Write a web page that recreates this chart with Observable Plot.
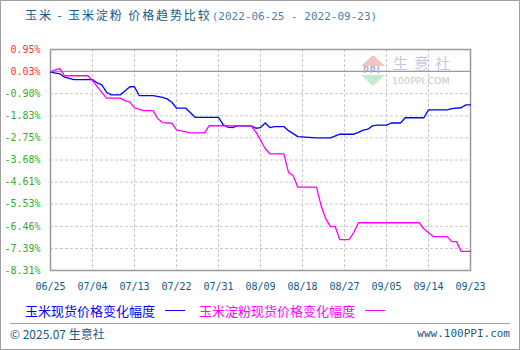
<!DOCTYPE html>
<html>
<head>
<meta charset="utf-8">
<script src="https://cdn.jsdelivr.net/npm/d3@7"></script>
<script src="https://cdn.jsdelivr.net/npm/@observablehq/plot@0.6"></script>
<style>
  html, body { margin: 0; padding: 0; background: #fff; }
  #wrap { position: relative; width: 520px; height: 350px; overflow: hidden; background: #fff; box-shadow: inset 0 0 0 1px #a0a0a0; }
  #chart { position: absolute; left: 0; top: 0; }
  .title { position: absolute; left: 25px; top: 7px; font-family: "Noto Sans CJK SC", sans-serif; font-size: 12px; line-height: 16px; color: #135a8c; white-space: nowrap; letter-spacing: 1.9px; }
  .title .d { color: #4a80b0; font-family: "DejaVu Sans Mono", monospace; font-size: 11px; letter-spacing: 0; }
  .legend { position: absolute; left: 25px; top: 301px; font: 13px "Noto Sans CJK SC", sans-serif; white-space: nowrap; display: flex; align-items: center; }
  .legend .sw { display: inline-block; width: 20px; height: 0; border-top: 1.5px solid; margin: 0 14px 0 10px; }
  .sep { position: absolute; left: 10px; right: 10px; top: 323px; border-top: 1px solid #a0a0a0; }
  .foot { position: absolute; top: 325px; font: 12px "Noto Sans CJK SC", sans-serif; color: #1a5a80; white-space: nowrap; }
  .wm { position: absolute; pointer-events: none; white-space: nowrap; }
  .tri-up { width: 0; height: 0; border-left: 12px solid transparent; border-right: 12px solid transparent; border-bottom: 11px solid #f6c2c0; }
  .tri-dn { width: 0; height: 0; border-left: 12px solid transparent; border-right: 12px solid transparent; border-top: 11px solid #c6ebcc; }
</style>
</head>
<body>
<div id="wrap">
  <div id="chart"></div>
  <div class="wm" style="left:361px;top:55px;"><div class="tri-up"></div></div>
  <div class="wm" style="left:363px;top:66px;font:bold 8px 'DejaVu Sans',sans-serif;line-height:9px;color:#aab2d6;letter-spacing:1px;">PPI</div>
  <div class="wm" style="left:361px;top:75px;"><div class="tri-dn"></div></div>
  <div class="wm" style="left:393px;top:55px;font:15px 'Noto Sans CJK SC',sans-serif;line-height:16px;color:#c4c9e2;letter-spacing:6px;">生意社</div>
  <div class="wm" style="left:392px;top:76px;font:9.5px 'DejaVu Sans',sans-serif;line-height:10px;color:#c8c8c8;">100PPI.COM</div>
  <div class="title">玉米 - 玉米淀粉 价格趋势比较<span class="d">(2022-06-25 - 2022-09-23)</span></div>
  <div class="legend">
    <span style="color:#0000ff">玉米现货价格变化幅度</span><span class="sw" style="border-color:#0000ff"></span>
    <span style="color:#ff00ff">玉米淀粉现货价格变化幅度</span><span class="sw" style="border-color:#ff00ff"></span>
  </div>
  <div class="sep"></div>
  <div class="foot" style="left:10px;">© 2025.07 生意社</div>
  <div class="foot" style="right:10px;font-family:'DejaVu Sans Mono',monospace;font-size:11px;top:327px;">www.100PPI.com</div>
</div>
<script>
// 玉米现货价格变化幅度 (%)
const cornDates = ["2022-06-25","2022-06-27","2022-06-28","2022-06-30","2022-07-04","2022-07-05","2022-07-06","2022-07-07","2022-07-08","2022-07-10","2022-07-12","2022-07-13","2022-07-14","2022-07-17","2022-07-19","2022-07-20","2022-07-21","2022-07-22","2022-07-24","2022-07-26","2022-07-31","2022-08-01","2022-08-02","2022-08-03","2022-08-04","2022-08-07","2022-08-08","2022-08-09","2022-08-10","2022-08-11","2022-08-12","2022-08-14","2022-08-15","2022-08-17","2022-08-21","2022-08-24","2022-08-26","2022-08-29","2022-08-30","2022-08-31","2022-09-01","2022-09-02","2022-09-03","2022-09-05","2022-09-06","2022-09-08","2022-09-09","2022-09-13","2022-09-14","2022-09-18","2022-09-19","2022-09-21","2022-09-22","2022-09-23"];
const cornValues = [0,-0.07,-0.21,-0.31,-0.31,-0.45,-0.53,-0.84,-0.95,-0.95,-0.61,-0.61,-0.98,-0.98,-1.06,-1.12,-1.26,-1.51,-1.51,-1.89,-1.89,-2.20,-2.30,-2.32,-2.25,-2.25,-2.35,-2.32,-2.13,-2.32,-2.28,-2.28,-2.45,-2.70,-2.75,-2.75,-2.60,-2.60,-2.52,-2.43,-2.39,-2.25,-2.22,-2.22,-2.13,-2.13,-1.91,-1.91,-1.58,-1.58,-1.53,-1.49,-1.37,-1.37];

// 玉米淀粉现货价格变化幅度 (%)
const starchDates = ["2022-06-25","2022-06-26","2022-06-27","2022-06-28","2022-07-03","2022-07-04","2022-07-06","2022-07-07","2022-07-10","2022-07-11","2022-07-12","2022-07-13","2022-07-15","2022-07-17","2022-07-18","2022-07-19","2022-07-21","2022-07-22","2022-07-25","2022-07-28","2022-07-29","2022-08-07","2022-08-08","2022-08-09","2022-08-10","2022-08-11","2022-08-14","2022-08-15","2022-08-16","2022-08-17","2022-08-21","2022-08-22","2022-08-23","2022-08-24","2022-08-25","2022-08-26","2022-08-28","2022-08-29","2022-08-30","2022-09-12","2022-09-13","2022-09-15","2022-09-18","2022-09-19","2022-09-20","2022-09-21","2022-09-23"];
const starchValues = [0,0.10,0.15,-0.15,-0.15,-0.35,-0.85,-1.09,-1.09,-1.20,-1.24,-1.50,-1.61,-1.61,-1.95,-2.11,-2.14,-2.42,-2.54,-2.54,-2.24,-2.25,-2.50,-2.85,-3.20,-3.42,-3.42,-4.20,-4.33,-4.82,-4.82,-5.60,-6.15,-6.47,-6.47,-7.02,-7.02,-6.71,-6.31,-6.31,-6.56,-6.89,-6.89,-7.10,-7.10,-7.51,-7.51];

// axis ticks
const xTickDates = ["2022-06-25","2022-07-04","2022-07-13","2022-07-22","2022-07-31","2022-08-09","2022-08-18","2022-08-27","2022-09-05","2022-09-14","2022-09-23"];
const yTicks = [0.95,0.03,-0.90,-1.83,-2.75,-3.68,-4.61,-5.53,-6.46,-7.39,-8.31];

const parse = d3.utcParse("%Y-%m-%d");
const corn = cornDates.map((d, i) => ({date: parse(d), value: cornValues[i]}));
const starch = starchDates.map((d, i) => ({date: parse(d), value: starchValues[i]}));
const xTicks = xTickDates.map(parse);
const posTicks = yTicks.filter(v => v > 0);
const negTicks = yTicks.filter(v => v <= 0);
const fmtY = v => v.toFixed(2) + "%";

const chart = Plot.plot({
  width: 520,
  height: 300,
  marginLeft: 50,
  marginRight: 50,
  marginTop: 49,
  marginBottom: 30,
  style: {background: "transparent", fontFamily: "'DejaVu Sans Mono', monospace", fontSize: "10px"},
  x: {type: "utc", domain: [parse("2022-06-25"), parse("2022-09-23")]},
  y: {domain: [-8.31, 0.95]},
  marks: [
    Plot.gridX(xTicks, {stroke: "#c8c8c8", strokeOpacity: 1, strokeDasharray: "3,2"}),
    Plot.gridY(yTicks.filter(v => v !== 0.03 && v !== 0.95 && v !== -8.31), {stroke: "#c8c8c8", strokeOpacity: 1, strokeDasharray: "3,2"}),
    Plot.ruleY([0.03], {stroke: "#999", strokeWidth: 1.2}),
    Plot.frame({stroke: "#999", strokeWidth: 1.5}),
    Plot.axisX(xTicks, {tickSize: 0, tickPadding: 12, tickFormat: d3.utcFormat("%m/%d"), fill: "#0f5a8c", label: null, fontSize: 10}),
    Plot.axisY(posTicks, {tickSize: 0, tickPadding: 10, tickFormat: fmtY, fill: "#ff3030", label: null, fontSize: 10}),
    Plot.axisY(negTicks, {tickSize: 0, tickPadding: 10, tickFormat: fmtY, fill: "#33aa33", label: null, fontSize: 10}),
    Plot.line(corn, {x: "date", y: "value", stroke: "#0000ff", strokeWidth: 1.3}),
    Plot.line(starch, {x: "date", y: "value", stroke: "#ff00ff", strokeWidth: 1.3})
  ]
});
document.getElementById("chart").appendChild(chart);
</script>
</body>
</html>
